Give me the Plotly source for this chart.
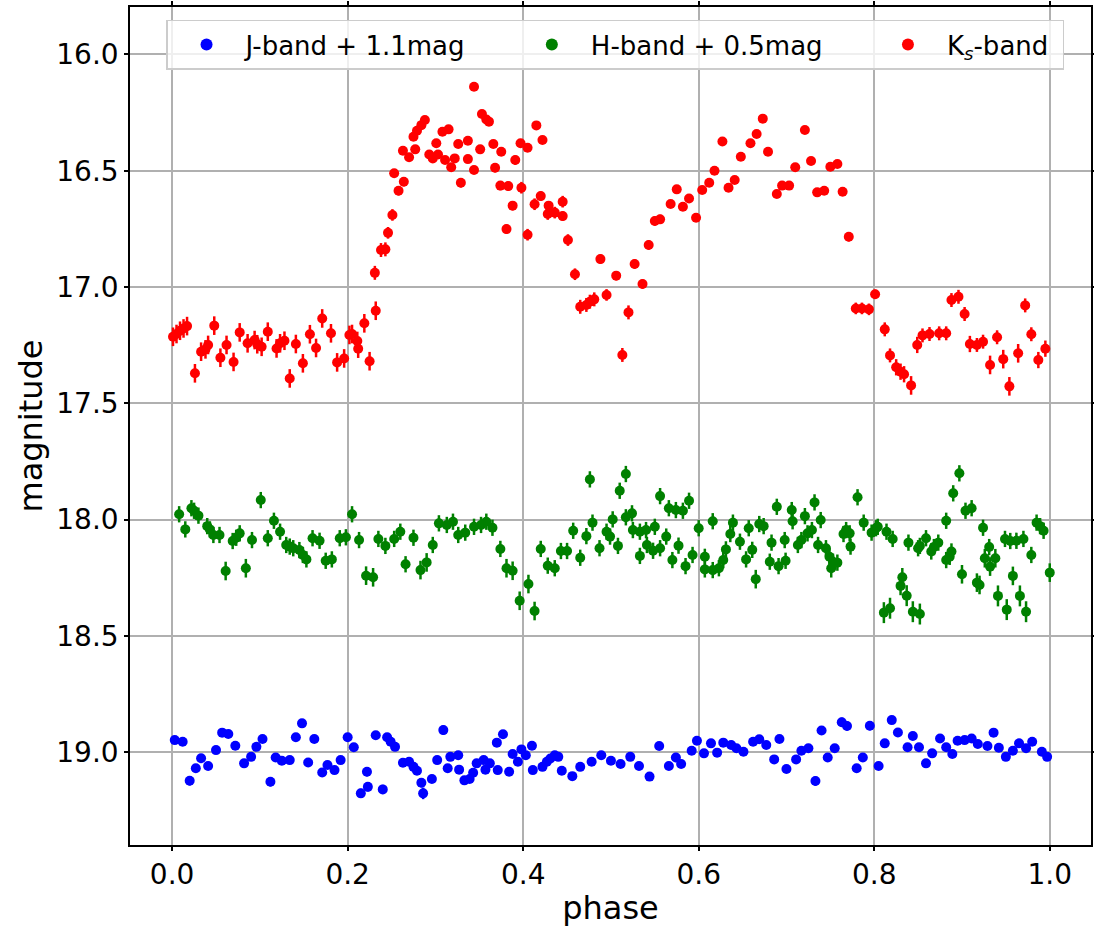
import plotly.graph_objects as go

# ---------------- data ----------------
ks_phase = [0.001, 0.005, 0.009, 0.013, 0.017, 0.026, 0.033, 0.038, 0.041, 0.048,
            0.055, 0.062, 0.070, 0.077, 0.086, 0.094, 0.097, 0.102, 0.109, 0.119,
            0.123, 0.128, 0.134, 0.141, 0.149, 0.157, 0.164, 0.171, 0.181, 0.188,
            0.196, 0.202, 0.205, 0.211, 0.212, 0.219, 0.225, 0.232, 0.231, 0.238,
            0.243, 0.246, 0.251, 0.253, 0.258, 0.263, 0.264, 0.270, 0.275, 0.277,
            0.279, 0.284, 0.288, 0.293, 0.297, 0.301, 0.303, 0.308, 0.311, 0.315,
            0.318, 0.322, 0.326, 0.329, 0.337, 0.337, 0.344, 0.344, 0.351, 0.353,
            0.358, 0.361, 0.366, 0.368, 0.374, 0.375, 0.381, 0.383, 0.388, 0.391,
            0.397, 0.398, 0.405, 0.405, 0.413, 0.415, 0.420, 0.422, 0.428, 0.429,
            0.436, 0.445, 0.445, 0.451, 0.459, 0.465, 0.472, 0.476, 0.481, 0.488,
            0.495, 0.506, 0.513, 0.520, 0.527, 0.536, 0.543, 0.550, 0.556, 0.568,
            0.575, 0.582, 0.589, 0.597, 0.604, 0.612, 0.618, 0.627, 0.634, 0.641,
            0.648, 0.659, 0.666, 0.673, 0.679, 0.689, 0.695, 0.703, 0.710, 0.721,
            0.728, 0.735, 0.743, 0.750, 0.758, 0.764, 0.771, 0.779, 0.786, 0.794,
            0.801, 0.812, 0.818, 0.825, 0.830, 0.834, 0.842, 0.849, 0.855, 0.863,
            0.874, 0.882, 0.888, 0.896, 0.903, 0.909, 0.917, 0.924, 0.932, 0.940,
            0.947, 0.954, 0.964, 0.972, 0.979, 0.987, 0.995]
ks_mag = [17.214, 17.202, 17.188, 17.178, 17.168, 17.371, 17.278, 17.268, 17.249, 17.166,
          17.304, 17.249, 17.322, 17.195, 17.242, 17.228, 17.246, 17.257, 17.192, 17.264,
          17.242, 17.231, 17.393, 17.245, 17.328, 17.203, 17.262, 17.135, 17.199, 17.324,
          17.307, 17.206, 17.202, 17.232, 17.265, 17.156, 17.319, 17.102, 16.939, 16.841,
          16.838, 16.767, 16.690, 16.511, 16.586, 16.414, 16.547, 16.442, 16.354, 16.408,
          16.328, 16.304, 16.282, 16.430, 16.447, 16.382, 16.430, 16.332, 16.454, 16.322,
          16.485, 16.447, 16.385, 16.552, 16.371, 16.450, 16.139, 16.497, 16.408, 16.256,
          16.280, 16.289, 16.385, 16.487, 16.564, 16.418, 16.751, 16.566, 16.650, 16.454,
          16.382, 16.573, 16.401, 16.775, 16.644, 16.305, 16.609, 16.368, 16.686, 16.650,
          16.680, 16.633, 16.695, 16.798, 16.945, 17.085, 17.077, 17.063, 17.053, 16.880,
          17.034, 16.951, 17.292, 17.109, 16.901, 16.987, 16.819, 16.716, 16.709, 16.643,
          16.580, 16.655, 16.619, 16.702, 16.583, 16.552, 16.500, 16.374, 16.573, 16.540,
          16.440, 16.382, 16.342, 16.276, 16.418, 16.600, 16.564, 16.564, 16.485, 16.325,
          16.458, 16.593, 16.586, 16.483, 16.471, 16.590, 16.784, 17.092, 17.092, 17.096,
          17.031, 17.182, 17.294, 17.345, 17.364, 17.375, 17.423, 17.249, 17.208, 17.202,
          17.199, 17.199, 17.056, 17.042, 17.116, 17.245, 17.249, 17.235, 17.335, 17.216,
          17.310, 17.427, 17.285, 17.079, 17.203, 17.314, 17.265]
ks_err = [0.04, 0.04, 0.04, 0.04, 0.04, 0.04, 0.04, 0.04, 0.04, 0.04,
          0.04, 0.04, 0.04, 0.04, 0.04, 0.04, 0.04, 0.04, 0.04, 0.04,
          0.04, 0.04, 0.04, 0.04, 0.04, 0.04, 0.04, 0.04, 0.04, 0.04,
          0.04, 0.04, 0.04, 0.04, 0.04, 0.04, 0.04, 0.04, 0.03, 0.03,
          0.03, 0.025, 0.025, 0.015, 0.02, 0.015, 0.02, 0.015, 0.015, 0.015,
          0.015, 0.015, 0.015, 0.015, 0.015, 0.015, 0.015, 0.015, 0.015, 0.015,
          0.015, 0.015, 0.015, 0.02, 0.015, 0.015, 0.015, 0.015, 0.015, 0.015,
          0.015, 0.015, 0.015, 0.02, 0.02, 0.015, 0.02, 0.02, 0.02, 0.02,
          0.015, 0.025, 0.015, 0.025, 0.025, 0.015, 0.02, 0.015, 0.025, 0.02,
          0.025, 0.025, 0.02, 0.025, 0.025, 0.03, 0.03, 0.03, 0.03, 0.02,
          0.025, 0.02, 0.03, 0.03, 0.02, 0.02, 0.02, 0.02, 0.02, 0.015,
          0.015, 0.015, 0.015, 0.015, 0.015, 0.015, 0.015, 0.015, 0.015, 0.015,
          0.015, 0.015, 0.015, 0.015, 0.015, 0.015, 0.015, 0.015, 0.015, 0.015,
          0.015, 0.015, 0.015, 0.015, 0.015, 0.015, 0.02, 0.025, 0.025, 0.025,
          0.02, 0.03, 0.03, 0.035, 0.035, 0.035, 0.04, 0.035, 0.03, 0.03,
          0.03, 0.03, 0.03, 0.03, 0.03, 0.035, 0.03, 0.03, 0.04, 0.03,
          0.04, 0.04, 0.04, 0.03, 0.03, 0.035, 0.035]

h_phase = [0.008, 0.015, 0.022, 0.025, 0.030, 0.040, 0.043, 0.047, 0.054, 0.061,
           0.069, 0.073, 0.077, 0.084, 0.091, 0.101, 0.109, 0.116, 0.123, 0.130,
           0.134, 0.138, 0.145, 0.149, 0.153, 0.160, 0.168, 0.175, 0.182, 0.191,
           0.198, 0.205, 0.213, 0.221, 0.229, 0.235, 0.243, 0.253, 0.260, 0.266,
           0.275, 0.283, 0.290, 0.297, 0.304, 0.313, 0.320, 0.326, 0.334, 0.344,
           0.352, 0.358, 0.365, 0.374, 0.381, 0.388, 0.396, 0.406, 0.413, 0.420,
           0.428, 0.436, 0.443, 0.450, 0.457, 0.465, 0.472, 0.476, 0.479, 0.487,
           0.495, 0.499, 0.502, 0.508, 0.510, 0.517, 0.517, 0.524, 0.525, 0.533,
           0.533, 0.540, 0.541, 0.548, 0.550, 0.556, 0.556, 0.563, 0.566, 0.570,
           0.574, 0.577, 0.582, 0.585, 0.589, 0.593, 0.600, 0.607, 0.607, 0.616,
           0.616, 0.623, 0.628, 0.631, 0.636, 0.639, 0.647, 0.654, 0.657, 0.661,
           0.665, 0.669, 0.674, 0.681, 0.683, 0.689, 0.691, 0.698, 0.699, 0.706,
           0.707, 0.713, 0.717, 0.721, 0.724, 0.729, 0.732, 0.736, 0.739, 0.745,
           0.749, 0.751, 0.753, 0.758, 0.765, 0.768, 0.772, 0.773, 0.781, 0.788,
           0.797, 0.802, 0.804, 0.811, 0.814, 0.818, 0.821, 0.830, 0.832, 0.837,
           0.839, 0.844, 0.850, 0.852, 0.852, 0.859, 0.865, 0.868, 0.873, 0.882,
           0.882, 0.886, 0.888, 0.890, 0.897, 0.900, 0.904, 0.911, 0.917, 0.920,
           0.924, 0.926, 0.931, 0.932, 0.938, 0.941, 0.949, 0.951, 0.955, 0.958,
           0.962, 0.966, 0.970, 0.973, 0.979, 0.985, 0.989, 0.993, 1.000]
h_mag = [17.977, 18.042, 17.951, 17.962, 17.983, 18.028, 18.042, 18.066, 18.066, 18.221,
         18.092, 18.078, 18.059, 18.209, 18.088, 17.916, 18.080, 18.005, 18.052, 18.109,
         18.116, 18.123, 18.131, 18.152, 18.171, 18.080, 18.091, 18.177, 18.171, 18.080,
         18.076, 17.977, 18.088, 18.241, 18.248, 18.083, 18.113, 18.083, 18.052, 18.192,
         18.078, 18.217, 18.184, 18.109, 18.016, 18.023, 18.009, 18.066, 18.056, 18.031,
         18.023, 18.009, 18.035, 18.126, 18.209, 18.220, 18.349, 18.277, 18.393, 18.126,
         18.198, 18.209, 18.135, 18.135, 18.048, 18.164, 18.071, 17.827, 18.013, 18.123,
         18.052, 18.073, 17.999, 18.113, 17.876, 17.804, 17.990, 17.973, 18.045, 18.052,
         18.156, 18.045, 18.109, 18.134, 18.031, 17.899, 18.123, 18.073, 17.951, 18.174,
         17.959, 18.112, 17.962, 18.200, 17.919, 18.152, 18.037, 18.160, 18.214, 18.007,
         18.217, 18.209, 18.174, 18.128, 18.062, 18.013, 18.095, 18.171, 18.037, 18.130,
         18.256, 18.019, 18.028, 18.181, 18.099, 17.945, 18.200, 18.088, 18.177, 17.959,
         18.007, 18.109, 18.088, 17.985, 18.059, 18.045, 17.926, 18.109, 18.002, 18.123,
         18.160, 18.209, 18.181, 18.185, 18.062, 18.045, 18.059, 18.116, 17.904, 18.013,
         18.056, 18.037, 18.031, 18.400, 18.052, 18.381, 18.083, 18.285, 18.248, 18.327,
         18.099, 18.396, 18.123, 18.406, 18.113, 18.080, 18.137, 18.118, 18.099, 18.174,
         18.005, 18.160, 18.137, 17.887, 17.801, 18.235, 17.962, 17.951, 18.271, 18.281,
         18.035, 18.166, 18.118, 18.202, 18.166, 18.328, 18.083, 18.387, 18.092, 18.242,
         18.091, 18.328, 18.083, 18.396, 18.152, 18.013, 18.028, 18.048, 18.228]
h_err = [0.035, 0.035, 0.035, 0.035, 0.035, 0.035, 0.035, 0.035, 0.035, 0.04,
         0.035, 0.035, 0.035, 0.04, 0.035, 0.035, 0.035, 0.035, 0.035, 0.035,
         0.035, 0.035, 0.035, 0.035, 0.035, 0.035, 0.035, 0.035, 0.035, 0.035,
         0.035, 0.035, 0.035, 0.04, 0.04, 0.035, 0.035, 0.035, 0.035, 0.035,
         0.035, 0.04, 0.04, 0.035, 0.035, 0.035, 0.035, 0.035, 0.035, 0.035,
         0.035, 0.035, 0.035, 0.035, 0.04, 0.04, 0.04, 0.04, 0.04, 0.035,
         0.035, 0.035, 0.035, 0.035, 0.035, 0.035, 0.035, 0.035, 0.035, 0.035,
         0.035, 0.035, 0.035, 0.035, 0.035, 0.035, 0.035, 0.035, 0.035, 0.035,
         0.035, 0.035, 0.035, 0.035, 0.035, 0.035, 0.035, 0.035, 0.035, 0.035,
         0.035, 0.035, 0.035, 0.035, 0.035, 0.035, 0.035, 0.035, 0.035, 0.035,
         0.035, 0.035, 0.035, 0.035, 0.035, 0.035, 0.035, 0.035, 0.035, 0.035,
         0.04, 0.035, 0.035, 0.035, 0.035, 0.035, 0.035, 0.035, 0.035, 0.035,
         0.035, 0.035, 0.035, 0.035, 0.035, 0.035, 0.035, 0.035, 0.035, 0.035,
         0.035, 0.04, 0.035, 0.035, 0.035, 0.035, 0.035, 0.035, 0.035, 0.035,
         0.035, 0.035, 0.035, 0.045, 0.035, 0.045, 0.035, 0.04, 0.04, 0.045,
         0.035, 0.045, 0.035, 0.045, 0.035, 0.035, 0.035, 0.035, 0.035, 0.035,
         0.035, 0.035, 0.035, 0.035, 0.035, 0.04, 0.035, 0.035, 0.04, 0.04,
         0.035, 0.04, 0.035, 0.04, 0.04, 0.045, 0.035, 0.045, 0.035, 0.04,
         0.035, 0.045, 0.035, 0.045, 0.035, 0.035, 0.035, 0.035, 0.04]

j_phase = [0.003, 0.012, 0.020, 0.027, 0.033, 0.041, 0.050, 0.057, 0.064, 0.072,
           0.082, 0.090, 0.096, 0.103, 0.112, 0.118, 0.125, 0.134, 0.141, 0.148,
           0.155, 0.162, 0.171, 0.177, 0.185, 0.192, 0.200, 0.207, 0.215, 0.222,
           0.223, 0.232, 0.240, 0.245, 0.249, 0.254, 0.263, 0.270, 0.275, 0.279,
           0.284, 0.286, 0.296, 0.302, 0.309, 0.314, 0.317, 0.326, 0.327, 0.333,
           0.339, 0.343, 0.347, 0.355, 0.357, 0.362, 0.370, 0.371, 0.377, 0.384,
           0.388, 0.394, 0.398, 0.403, 0.410, 0.411, 0.422, 0.427, 0.431, 0.436,
           0.440, 0.444, 0.456, 0.465, 0.478, 0.489, 0.500, 0.511, 0.522, 0.532,
           0.544, 0.555, 0.566, 0.574, 0.580, 0.592, 0.598, 0.606, 0.614, 0.621,
           0.628, 0.637, 0.643, 0.651, 0.662, 0.669, 0.677, 0.686, 0.692, 0.700,
           0.711, 0.717, 0.725, 0.733, 0.740, 0.747, 0.755, 0.763, 0.769, 0.780,
           0.787, 0.795, 0.805, 0.812, 0.820, 0.827, 0.838, 0.844, 0.851, 0.859,
           0.866, 0.875, 0.882, 0.889, 0.895, 0.903, 0.911, 0.918, 0.929, 0.936,
           0.942, 0.950, 0.958, 0.965, 0.973, 0.980, 0.991, 0.997]
j_mag = [18.948, 18.955, 19.123, 19.069, 19.026, 19.059, 18.991, 18.916, 18.922, 18.972,
         19.048, 19.020, 18.977, 18.943, 19.127, 19.023, 19.037, 19.034, 18.936, 18.876,
         19.044, 18.943, 19.087, 19.055, 19.077, 19.034, 18.936, 18.979, 19.177, 19.084,
         19.149, 18.927, 19.160, 18.936, 18.955, 18.977, 19.045, 19.041, 19.063, 19.080,
         19.131, 19.177, 19.115, 19.034, 18.905, 19.069, 19.020, 19.013, 19.075, 19.121,
         19.115, 19.088, 19.048, 19.034, 19.075, 19.048, 18.959, 19.077, 18.923, 19.084,
         19.008, 19.041, 18.988, 19.013, 18.972, 19.077, 19.063, 19.041, 19.027, 19.013,
         19.020, 19.080, 19.103, 19.063, 19.041, 19.013, 19.037, 19.051, 19.020, 19.059,
         19.105, 18.973, 19.059, 19.023, 19.051, 18.994, 18.951, 19.005, 18.962, 19.002,
         18.959, 18.969, 18.983, 18.998, 18.955, 18.944, 18.969, 19.031, 18.943, 19.072,
         19.031, 18.994, 18.983, 19.124, 18.907, 19.023, 18.983, 18.871, 18.887, 19.069,
         19.023, 18.886, 19.059, 18.962, 18.862, 18.915, 18.979, 18.930, 18.979, 19.048,
         19.005, 18.941, 18.979, 19.008, 18.951, 18.948, 18.941, 18.965, 18.973, 18.916,
         18.981, 19.020, 18.994, 18.962, 18.983, 18.955, 18.998, 19.020]
j_err = [0.015, 0.015, 0.02, 0.015, 0.015, 0.015, 0.015, 0.015, 0.015, 0.015,
         0.015, 0.015, 0.015, 0.015, 0.02, 0.015, 0.015, 0.015, 0.015, 0.015,
         0.015, 0.015, 0.015, 0.015, 0.015, 0.015, 0.015, 0.015, 0.02, 0.02,
         0.02, 0.015, 0.02, 0.015, 0.015, 0.015, 0.015, 0.015, 0.015, 0.015,
         0.02, 0.025, 0.015, 0.015, 0.02, 0.015, 0.015, 0.015, 0.015, 0.015,
         0.015, 0.015, 0.015, 0.015, 0.015, 0.015, 0.015, 0.015, 0.015, 0.015,
         0.015, 0.015, 0.015, 0.015, 0.015, 0.015, 0.015, 0.015, 0.015, 0.015,
         0.015, 0.015, 0.015, 0.015, 0.015, 0.015, 0.015, 0.015, 0.015, 0.015,
         0.015, 0.015, 0.015, 0.02, 0.015, 0.015, 0.015, 0.015, 0.015, 0.015,
         0.015, 0.015, 0.015, 0.015, 0.015, 0.015, 0.015, 0.015, 0.015, 0.015,
         0.015, 0.015, 0.015, 0.02, 0.015, 0.015, 0.015, 0.02, 0.02, 0.015,
         0.015, 0.02, 0.015, 0.015, 0.015, 0.015, 0.015, 0.015, 0.015, 0.015,
         0.015, 0.015, 0.015, 0.015, 0.015, 0.015, 0.015, 0.015, 0.015, 0.015,
         0.015, 0.015, 0.015, 0.015, 0.015, 0.015, 0.015, 0.015]

x_ticks = [0.0, 0.2, 0.4, 0.6, 0.8, 1.0]
x_ticklabels = ["0.0", "0.2", "0.4", "0.6", "0.8", "1.0"]
y_ticks = [16.0, 16.5, 17.0, 17.5, 18.0, 18.5, 19.0]
y_ticklabels = ["16.0", "16.5", "17.0", "17.5", "18.0", "18.5", "19.0"]

PAD = "\u00a0" * 5  # spacing between legend columns
series = [
    ("J-band + 1.1mag" + PAD, j_phase, j_mag, j_err, "blue"),
    ("H-band + 0.5mag" + PAD, h_phase, h_mag, h_err, "green"),
    ("K<sub><i>s</i></sub>-band\u00a0", ks_phase, ks_mag, ks_err, "red"),
]

FONT = "DejaVu Sans"

fig = go.Figure()
for name, ph, mg, er, col in series:
    fig.add_trace(go.Scatter(
        x=ph, y=mg, mode="markers", name=name,
        marker=dict(color=col, size=10, line=dict(width=0)),
        error_y=dict(type="data", array=er, visible=True, color=col,
                     thickness=2.5, width=0),
    ))

axis_common = dict(
    showline=True, linecolor="black", linewidth=1.5, mirror="ticks",
    ticks="outside", ticklen=4, tickwidth=1.5, tickcolor="black",
    showgrid=True, gridcolor="#b0b0b0", gridwidth=1.5,
    zeroline=False, tickfont=dict(family=FONT, size=28, color="black"),
)

fig.update_xaxes(
    range=[-0.048, 1.047], tickvals=x_ticks, ticktext=x_ticklabels,
    title=dict(text="phase", font=dict(family=FONT, size=32, color="black"), standoff=6),
    **axis_common,
)
fig.update_yaxes(
    range=[19.399, 15.796], tickvals=y_ticks, ticktext=y_ticklabels,
    title=dict(text="magnitude", font=dict(family=FONT, size=32, color="black"), standoff=4),
    **axis_common,
)

fig.update_layout(
    width=1094, height=930,
    margin=dict(l=130, r=3, t=7, b=85, autoexpand=False),
    plot_bgcolor="white", paper_bgcolor="white",
    font=dict(family=FONT, color="black"),
    legend=dict(
        orientation="h", x=0.0375, y=0.985, xanchor="left", yanchor="top",
        font=dict(family=FONT, size=26, color="black"),
        bgcolor="rgba(255,255,255,0.8)", bordercolor="#cccccc", borderwidth=1.5,
        itemwidth=68, itemsizing="constant",
    ),
    showlegend=True,
)

fig.write_html("out.html", config={"displayModeBar": False},
               post_script="document.body.style.margin='0px';")
